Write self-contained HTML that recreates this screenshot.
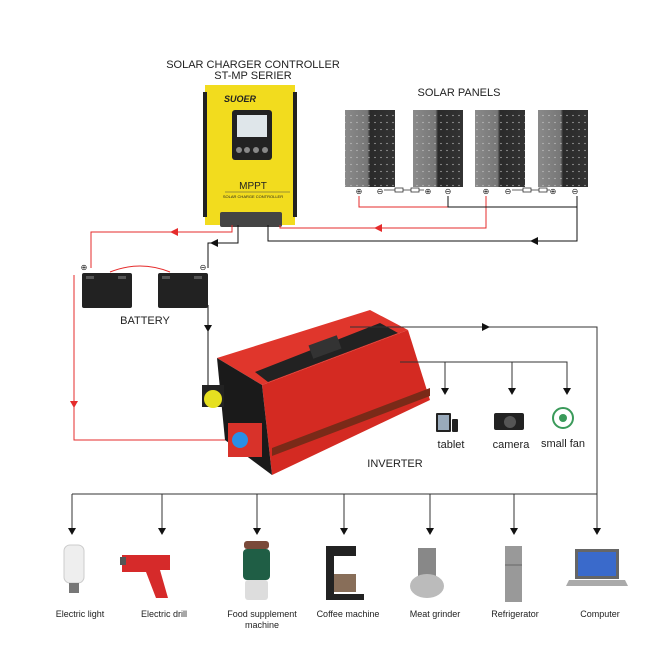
<!DOCTYPE html>
<html><head><meta charset="utf-8"><style>
html,body{margin:0;padding:0;background:#fff;width:663px;height:663px;overflow:hidden}
svg text{font-family:"Liberation Sans",sans-serif;fill:#222}
</style></head><body>
<svg width="663" height="663" viewBox="0 0 663 663" xmlns="http://www.w3.org/2000/svg">
<defs>
<marker id="ab" viewBox="0 0 10 10" refX="5" refY="5" markerWidth="7" markerHeight="7" orient="auto"><path d="M0,0 L10,5 L0,10z" fill="#000"/></marker>
<linearGradient id="pg" x1="0" x2="1"><stop offset="0" stop-color="#8a8a8a"/><stop offset="0.45" stop-color="#777"/><stop offset="0.5" stop-color="#2a2a2a"/><stop offset="1" stop-color="#333"/></linearGradient>
<pattern id="cells" width="6" height="7" patternUnits="userSpaceOnUse"><rect width="6" height="7" fill="none"/><circle cx="3" cy="3.5" r="0.6" fill="#ccc"/></pattern>
</defs>

<!-- titles -->
<text x="253" y="68" font-size="11" text-anchor="middle">SOLAR CHARGER CONTROLLER</text>
<text x="253" y="79" font-size="11" text-anchor="middle">ST-MP SERIER</text>
<text x="459" y="96" font-size="11" text-anchor="middle">SOLAR PANELS</text>

<!-- controller -->
<rect x="205" y="85" width="90" height="140" fill="#f2dc1e"/>
<rect x="203" y="92" width="4" height="125" fill="#222"/>
<rect x="293" y="92" width="4" height="125" fill="#222"/>
<text x="240" y="102" font-size="9" font-weight="bold" text-anchor="middle" fill="#222" font-style="italic">SUOER</text>
<rect x="232" y="110" width="40" height="50" rx="3" fill="#222"/>
<rect x="237" y="115" width="30" height="22" fill="#dfe6ea"/>
<circle cx="239" cy="150" r="3" fill="#888"/><circle cx="247" cy="150" r="3" fill="#888"/><circle cx="256" cy="150" r="3" fill="#888"/><circle cx="265" cy="150" r="3" fill="#888"/>
<text x="253" y="189" font-size="10" text-anchor="middle">MPPT</text>
<line x1="225" y1="192" x2="290" y2="192" stroke="#444" stroke-width="0.6"/>
<text x="253" y="198" font-size="4" text-anchor="middle">SOLAR CHARGE CONTROLLER</text>
<rect x="220" y="212" width="62" height="15" rx="2" fill="#444"/>

<!-- panels -->
<g>
<rect x="345" y="110" width="50" height="77" fill="url(#pg)"/><rect x="345" y="110" width="50" height="77" fill="url(#cells)"/>
<rect x="413" y="110" width="50" height="77" fill="url(#pg)"/><rect x="413" y="110" width="50" height="77" fill="url(#cells)"/>
<rect x="475" y="110" width="50" height="77" fill="url(#pg)"/><rect x="475" y="110" width="50" height="77" fill="url(#cells)"/>
<rect x="538" y="110" width="50" height="77" fill="url(#pg)"/><rect x="538" y="110" width="50" height="77" fill="url(#cells)"/>
</g>
<g font-size="8" text-anchor="middle">
<text x="359" y="194">⊕</text><text x="380" y="194">⊖</text><text x="428" y="194">⊕</text><text x="448" y="194">⊖</text>
<text x="486" y="194">⊕</text><text x="508" y="194">⊖</text><text x="553" y="194">⊕</text><text x="575" y="194">⊖</text>
</g>
<g stroke="#333" stroke-width="0.8" fill="none">
<path d="M384,190 H395 M403,190 H411 M419,190 H424"/><rect x="395" y="188" width="8" height="4"/><rect x="411" y="188" width="8" height="4"/>
<path d="M512,190 H523 M531,190 H539 M547,190 H550"/><rect x="523" y="188" width="8" height="4"/><rect x="539" y="188" width="8" height="4"/>
</g>

<!-- wires red -->
<g fill="none" stroke="#e52b2b" stroke-width="1">
<path d="M359,196 V207 H486 V196"/>
<path d="M486,207 V228 H280 V225"/>
<path d="M232,225 V232 H91 V268"/>
<path d="M74,275 V440 H235"/>
</g>
<path d="M374,228 l8,-4 v8z" fill="#e52b2b"/>
<path d="M170,232 l8,-4 v8z" fill="#e52b2b"/>
<path d="M70,401 l4,7 l4,-7z" fill="#e52b2b"/>
<!-- wires black -->
<g fill="none" stroke="#111" stroke-width="1">
<path d="M448,196 V207 H577 V196"/>
<path d="M577,207 V241 H268 V225"/>
<path d="M238,225 V243 H208 V268"/>
<path d="M208,305 V385"/>
</g>
<path d="M530,241 l8,-4 v8z" fill="#111"/>
<path d="M210,243 l8,-4 v8z" fill="#111"/>
<path d="M204,325 l4,7 l4,-7z" fill="#111"/>

<!-- battery -->
<text x="84" y="270" font-size="8" text-anchor="middle">⊕</text>
<text x="203" y="270" font-size="8" text-anchor="middle">⊖</text>
<path d="M110,272 Q140,260 170,272" stroke="#e52b2b" fill="none"/>
<rect x="82" y="273" width="50" height="35" rx="2" fill="#222"/>
<rect x="158" y="273" width="50" height="35" rx="2" fill="#222"/>
<rect x="86" y="276" width="8" height="3" fill="#555"/><rect x="118" y="276" width="8" height="3" fill="#555"/>
<rect x="162" y="276" width="8" height="3" fill="#555"/><rect x="194" y="276" width="8" height="3" fill="#555"/>
<text x="145" y="324" font-size="11" text-anchor="middle">BATTERY</text>

<!-- inverter -->
<polygon points="217,358 370,310 408,330 262,385" fill="#e0362c"/>
<polygon points="262,385 408,330 430,400 272,475" fill="#d42a22"/>
<polygon points="272,448 430,388 430,396 272,456" fill="#7a2a18"/>
<polygon points="217,358 262,385 272,475 225,440" fill="#1a1a1a"/>
<polygon points="255,372 380,323 398,333 268,382" fill="#222"/>
<rect x="310" y="340" width="30" height="14" fill="#333" transform="rotate(-20 325 347)"/>
<rect x="202" y="385" width="22" height="22" fill="#222"/>
<circle cx="213" cy="399" r="9" fill="#e6e020"/>
<rect x="228" y="423" width="34" height="34" fill="#d8322a"/>
<circle cx="240" cy="440" r="8" fill="#2a8fe6"/>
<text x="395" y="467" font-size="11" text-anchor="middle">INVERTER</text>

<!-- outputs -->
<g fill="none" stroke="#333" stroke-width="1">
<path d="M350,327 H597 V528"/>
<path d="M400,362 H567 V388"/>
<path d="M445,362 V388 M512,362 V388"/>
<path d="M72,494 H597"/>
<path d="M72,494 V528 M162,494 V528 M257,494 V528 M344,494 V528 M430,494 V528 M514,494 V528"/>
</g>
<path d="M482,323 l8,4 l-8,4z" fill="#111"/>
<g fill="#111">
<path d="M441,388 l4,7 l4,-7z"/><path d="M508,388 l4,7 l4,-7z"/><path d="M563,388 l4,7 l4,-7z"/>
<path d="M68,528 l4,7 l4,-7z"/><path d="M158,528 l4,7 l4,-7z"/><path d="M253,528 l4,7 l4,-7z"/><path d="M340,528 l4,7 l4,-7z"/><path d="M426,528 l4,7 l4,-7z"/><path d="M510,528 l4,7 l4,-7z"/><path d="M593,528 l4,7 l4,-7z"/>
</g>
<!-- small devices -->
<rect x="436" y="413" width="15" height="19" rx="1" fill="#222"/><rect x="438" y="415" width="11" height="15" fill="#9ab"/>
<rect x="452" y="419" width="6" height="13" rx="1" fill="#222"/>
<rect x="494" y="413" width="30" height="17" rx="2" fill="#222"/><circle cx="510" cy="422" r="6" fill="#555"/>
<circle cx="563" cy="418" r="10" fill="none" stroke="#3a9a5a" stroke-width="2"/><circle cx="563" cy="418" r="4" fill="#3a9a5a"/>
<text x="451" y="448" font-size="11" text-anchor="middle" fill="#555">tablet</text>
<text x="511" y="448" font-size="11" text-anchor="middle" fill="#555">camera</text>
<text x="563" y="447" font-size="11" text-anchor="middle" fill="#555">small fan</text>

<!-- appliances -->
<rect x="64" y="545" width="20" height="38" rx="6" fill="#eee" stroke="#ccc"/><rect x="69" y="583" width="10" height="10" fill="#777"/>
<path d="M122,555 H170 V570 H160 L168,598 H156 L146,572 H122z" fill="#d62a2a"/><rect x="120" y="557" width="6" height="8" fill="#555"/>
<rect x="244" y="541" width="25" height="8" rx="3" fill="#7a4a3a"/><rect x="243" y="549" width="27" height="31" rx="4" fill="#1f5e45"/><rect x="245" y="580" width="23" height="20" rx="3" fill="#ddd"/>
<rect x="326" y="546" width="30" height="10" fill="#222"/><rect x="326" y="556" width="8" height="40" fill="#222"/><path d="M334,574 H356 V592 H334z" fill="#6a4a30" opacity="0.8"/><rect x="326" y="594" width="38" height="6" fill="#222"/>
<rect x="418" y="548" width="18" height="30" fill="#888"/><ellipse cx="427" cy="586" rx="17" ry="12" fill="#bbb"/>
<rect x="505" y="546" width="17" height="56" fill="#999"/><line x1="505" y1="565" x2="522" y2="565" stroke="#666"/>
<rect x="575" y="549" width="44" height="30" fill="#666"/><rect x="578" y="552" width="38" height="24" fill="#3a6acb"/><path d="M569,580 H625 L628,586 H566z" fill="#aaa"/>

<g font-size="9" text-anchor="middle" fill="#333">
<text x="80" y="617">Electric light</text>
<text x="164" y="617">Electric drill</text>
<text x="262" y="617">Food supplement</text>
<text x="262" y="628">machine</text>
<text x="348" y="617">Coffee machine</text>
<text x="435" y="617">Meat grinder</text>
<text x="515" y="617">Refrigerator</text>
<text x="600" y="617">Computer</text>
</g>
</svg>
</body></html>
